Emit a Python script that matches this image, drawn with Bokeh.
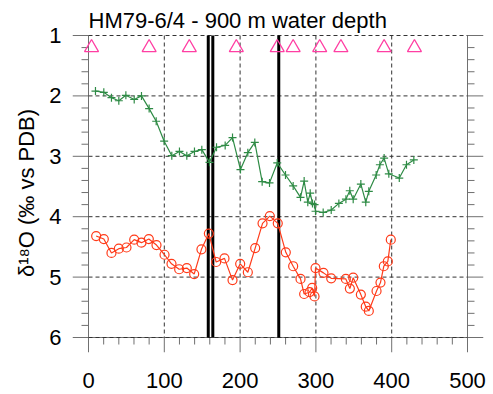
from bokeh.plotting import figure
from bokeh.models import Range1d, FixedTicker
from bokeh.embed import file_html
from bokeh.resources import INLINE

title_text = "HM79-6/4 - 900 m water depth"
y_label = "δ¹⁸O (‰ vs PDB)"

green_x = [9.2, 20.2, 30.3, 40, 49.3, 60.3, 69.9, 80, 89.3, 99.8, 109.9, 120, 129.7, 139.8, 149.5,
           159.6, 168.9, 180.3, 190, 200.5, 210.2, 219.4, 229.1, 238.8, 249, 259.9, 270, 279.7,
           284.5, 289.3, 292.5, 295.5, 298.2, 299.5, 309.6, 320.2, 330.3, 339.6, 344.7, 349.2,
           359.3, 365.8, 369.8, 379.5, 384.4, 390, 396.2, 410, 419.5, 429.2]
green_y = [1.92, 1.94, 2.03, 2.08, 1.99, 2.06, 2.00, 2.21, 2.42, 2.75, 2.99, 2.92, 2.99, 2.92, 2.89,
           3.10, 2.85, 2.82, 2.69, 3.22, 2.94, 2.77, 3.42, 3.44, 3.11, 3.31, 3.49, 3.68,
           3.41, 3.76, 3.61, 3.78, 3.80, 3.91, 3.93, 3.89, 3.78, 3.71, 3.57, 3.71,
           3.46, 3.76, 3.58, 3.31, 3.14, 3.03, 3.29, 3.36, 3.14, 3.06]

red_x = [10.1, 20.2, 30.3, 40, 50.1, 60.3, 69.9, 79.6, 89.7, 100.3, 109.5, 119.6, 129.7, 139.4, 149,
         158.8, 168.4, 179.4, 190, 200.1, 210.2, 219.9, 229.6, 239.2, 249.7, 260.3, 270, 279.7,
         284.5, 291.6, 295.1, 298.2, 299.5, 310, 320.2, 339.5, 344.8, 349.2, 359.3, 365.8, 369.8,
         380, 385.2, 389.6, 394.9, 398.8]
red_y = [4.32, 4.37, 4.60, 4.53, 4.51, 4.38, 4.43, 4.37, 4.47, 4.63, 4.78, 4.87, 4.85, 4.95, 4.54,
         4.28, 4.75, 4.69, 5.05, 4.78, 4.92, 4.52, 4.11, 3.99, 4.11, 4.59, 4.82, 5.03,
         5.28, 5.25, 5.18, 5.32, 4.85, 4.93, 5.02, 5.03, 5.19, 5.01, 5.29, 5.49, 5.56,
         5.23, 5.09, 4.82, 4.74, 4.38]

tri_x = [4, 80, 133, 195, 249, 270, 305, 333, 390, 430]
tri_y = [1.2] * len(tri_x)

vline_x = [158, 164, 251]

x_ticks = [0, 100, 200, 300, 400, 500]
y_ticks = [1, 2, 3, 4, 5, 6]

# ---- layout (pixels) ----
PLOT_W, PLOT_H = 379, 302          # pixel size of the 0..500 x 1..6 data box
MAJ, MIN = 16, 7                   # tick lengths in pixels
px_x = PLOT_W / (x_ticks[-1] - x_ticks[0])
px_y = PLOT_H / (y_ticks[-1] - y_ticks[0])
x_lo = x_ticks[0] - MAJ / px_x
x_hi = x_ticks[-1] + MAJ / px_x
y_top = y_ticks[0] - 2 / px_y
y_bot = y_ticks[-1] + 15 / px_y

p = figure(width=493, height=394, output_backend="svg", toolbar_location=None,
           x_range=Range1d(x_lo, x_hi), y_range=Range1d(y_bot, y_top),
           min_border_left=72, min_border_right=10, min_border_top=33, min_border_bottom=42)
p.outline_line_color = None
p.xgrid.visible = False
p.ygrid.visible = False

for ax in (p.xaxis[0], p.yaxis[0]):
    ax.axis_line_color = None
    ax.major_tick_line_color = None
    ax.minor_tick_line_color = None
    ax.major_label_text_font_size = "22px"
    ax.major_label_text_color = "black"

p.xaxis[0].ticker = FixedTicker(ticks=x_ticks, minor_ticks=[])
p.xaxis[0].major_label_standoff = 14
p.yaxis[0].ticker = FixedTicker(ticks=y_ticks, minor_ticks=[])
p.yaxis[0].major_label_standoff = 5
p.yaxis[0].axis_label = y_label
p.yaxis[0].axis_label_text_font_style = "normal"
p.yaxis[0].axis_label_text_font_size = "22px"
p.yaxis[0].axis_label_text_color = "black"
p.yaxis[0].axis_label_standoff = 7

p.title.text = title_text
p.title.text_font_size = "22px"
p.title.text_font_style = "normal"
p.title.text_color = "black"
p.title.align = "left"
p.title.offset = 16
p.title.standoff = 2

# ---- ticks and axis lines drawn from the tick lists ----
TICK_C = "#707070"
x_minor = [a + (b - a) * k / 5 for a, b in zip(x_ticks[:-1], x_ticks[1:]) for k in range(1, 5)]
y_minor = [a + (b - a) * k / 5 for a, b in zip(y_ticks[:-1], y_ticks[1:]) for k in range(1, 5)]
x0, x1 = x_ticks[0], x_ticks[-1]
y0, y1 = y_ticks[0], y_ticks[-1]

# axis lines: left, right, bottom
p.segment(x0=[x0, x1, x0], y0=[y0, y0, y1], x1=[x0, x1, x1], y1=[y1, y1, y1],
          line_color=TICK_C, line_width=1)
# left / right y ticks
p.segment(x0=[x0 - MAJ / px_x] * len(y_ticks), y0=y_ticks, x1=[x0] * len(y_ticks), y1=y_ticks,
          line_color=TICK_C, line_width=1)
p.segment(x0=[x1] * len(y_ticks), y0=y_ticks, x1=[x1 + MAJ / px_x] * len(y_ticks), y1=y_ticks,
          line_color=TICK_C, line_width=1)
p.segment(x0=[x0 - MIN / px_x] * len(y_minor), y0=y_minor, x1=[x0] * len(y_minor), y1=y_minor,
          line_color=TICK_C, line_width=1)
p.segment(x0=[x1] * len(y_minor), y0=y_minor, x1=[x1 + MIN / px_x] * len(y_minor), y1=y_minor,
          line_color=TICK_C, line_width=1)
# bottom x ticks
p.segment(x0=x_ticks, y0=[y1] * len(x_ticks), x1=x_ticks, y1=[y1 + 15 / px_y] * len(x_ticks),
          line_color=TICK_C, line_width=1)
p.segment(x0=x_minor, y0=[y1] * len(x_minor), x1=x_minor, y1=[y1 + MIN / px_y] * len(x_minor),
          line_color=TICK_C, line_width=1)

# dashed grid
p.segment(x0=x_ticks[1:-1], y0=[y0] * 4, x1=x_ticks[1:-1], y1=[y1] * 4,
          line_color="#333333", line_dash="4 3", line_width=1)
p.segment(x0=[x0] * len(y_ticks), y0=y_ticks, x1=[x1] * len(y_ticks), y1=y_ticks,
          line_color="#333333", line_dash="4 3", line_width=1)

# vertical marker lines
p.segment(x0=vline_x, y0=[y0] * len(vline_x), x1=vline_x, y1=[y1] * len(vline_x),
          line_color="black", line_width=3)

p.line(green_x, green_y, line_color="#2e8b45", line_width=1.2)
p.scatter(green_x, green_y, marker="cross", size=8, line_color="#2e8b45", line_width=1.2)

p.line(red_x, red_y, line_color="#ff3b1a", line_width=1.2)
p.scatter(red_x, red_y, marker="circle", size=9, fill_color=None, line_color="#ff3b1a", line_width=1.2)

p.scatter(tri_x, tri_y, marker="triangle", size=14, fill_color=None, line_color="#ff3fa3", line_width=1.3)

open("out.html", "w").write(file_html(p, INLINE))
